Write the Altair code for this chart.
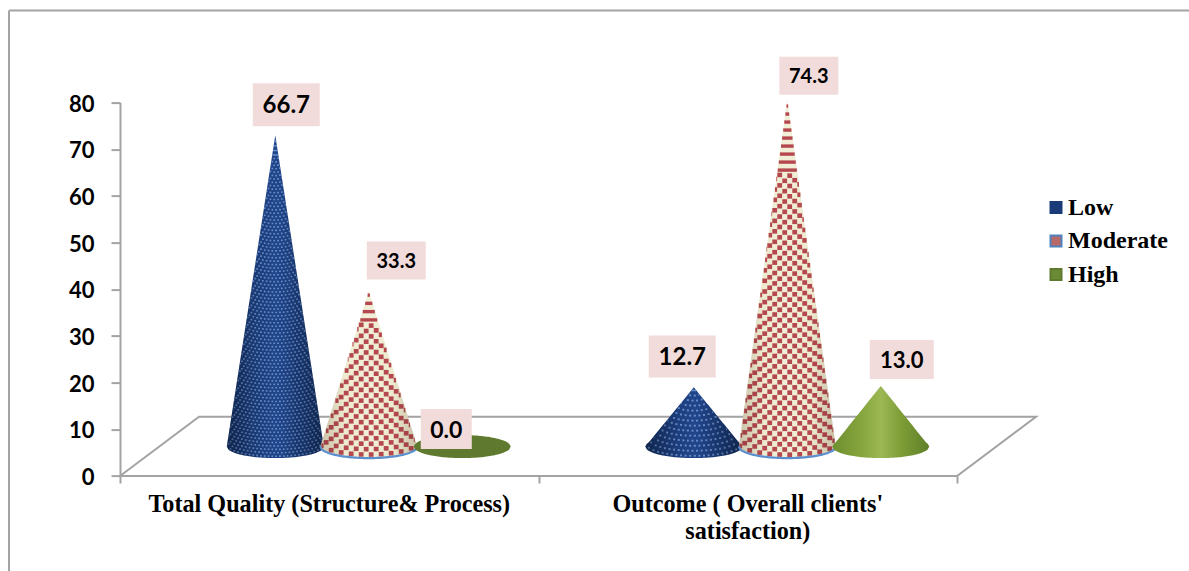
import math
import altair as alt
import pandas as pd

# Chart values
groups = ["Total Quality (Structure& Process)", "Outcome ( Overall clients'\nsatisfaction)"]
series = ["Low", "Moderate", "High"]
low_values = [66.7, 12.7]
moderate_values = [33.3, 74.3]
high_values = [0.0, 13.0]
y_ticks = [0, 10, 20, 30, 40, 50, 60, 70, 80]

# Canvas and plot-area geometry (pixels)
CANVAS_W, CANVAS_H = 1189, 571
PAD_LEFT, PAD_TOP = 120, 102.6
PLOT_W, PLOT_H = 917, 373.4
X_MAX = 2.191
PX_X = PLOT_W / X_MAX   # pixels per category unit
PX_Y = PLOT_H / 80      # pixels per value unit

# 3D floor and cone layout
DEPTH_X = 0.1888        # floor depth along x, category units
DEPTH_Y = 12.7          # floor depth along y, value units
LIFT = 6.3              # cone bases sit this far up the floor
SLOT = 93.5 / PX_X      # distance between neighbouring cones
RX = 48.5 / PX_X        # base radius, category units
RY = 11.5 / PX_Y        # base radius, value units

GREY = "#A3A3A3"
x_scale = alt.Scale(domain=[0, X_MAX], nice=False, zero=False)
y_scale = alt.Scale(domain=[0, 80], nice=False, zero=False)


def cone_centre(g, s):
    return g + 0.5 + DEPTH_X / 2 + (s - 1) * SLOT


cones = []
for g in range(2):
    for s, vals in enumerate([low_values, moderate_values, high_values]):
        cones.append(dict(name=f"{g}-{s}", g=g, s=s, value=vals[g],
                          cx=cone_centre(g, s), apex=vals[g] + LIFT))


def outline(c, n=60):
    """Sampled top and bottom edges of a cone silhouette."""
    rows = []
    for i in range(n + 1):
        u = -1 + 2 * i / n
        arc = math.sqrt(max(0.0, 1 - u * u)) * RY
        slope = LIFT + (c["apex"] - LIFT) * (1 - abs(u))
        rows.append(dict(cone=c["name"], s=c["s"], value=c["value"], x=c["cx"] + u * RX,
                         top=max(slope, LIFT + arc), bottom=LIFT - arc))
    return rows


outlines = pd.DataFrame([r for c in cones for r in outline(c)])


def textured_cells(c, cell_w, cell_h, mark_w, mark_h, stripe_half, stripe_pitch, stripe_h):
    """Pattern cells wrapped round a cone, on a grid aligned with its axis."""
    height_px = (c["apex"] - LIFT) * PX_Y
    rx_px, ry_px = RX * PX_X, RY * PX_Y
    rows, h, row = [], mark_h / 2 + 1, 0
    while h < height_px - 1:
        f = 1 - h / height_px
        half = rx_px * f
        drop = ry_px * f
        if half < stripe_half:
            y = LIFT + (h - drop * 0.8) / PX_Y
            rows.append(dict(cone=c["name"], x1=c["cx"] - half / PX_X, x2=c["cx"] + half / PX_X,
                             y1=y - stripe_h / 2 / PX_Y, y2=y + stripe_h / 2 / PX_Y))
            h += stripe_pitch
        else:
            k0 = -int(half / cell_w) - 1
            for k in range(k0, -k0 + 1):
                if (k + row) % 2:
                    continue
                left = k * cell_w
                right = left + mark_w
                left, right = max(left, -half), min(right, half)
                if right - left < 0.5:
                    continue
                mid = (left + right) / 2 / half
                y = LIFT + (h - drop * math.sqrt(max(0.0, 1 - mid * mid))) / PX_Y
                rows.append(dict(cone=c["name"], x1=c["cx"] + left / PX_X, x2=c["cx"] + right / PX_X,
                                 y1=y - mark_h / 2 / PX_Y, y2=y + mark_h / 2 / PX_Y))
            h += cell_h
        row += 1
    return rows


def blue_texture(c):
    # The short cone wraps the same weave more coarsely than the tall one
    if c["value"] < 20:
        return textured_cells(c, 2.3, 4.2, 2.0, 1.9, 4, 4.4, 1.5)
    return textured_cells(c, 1.9, 3.3, 1.7, 1.6, 3, 4.4, 1.5)


blue_cells = pd.DataFrame([r for c in cones if c["s"] == 0 for r in blue_texture(c)])
red_cells = pd.DataFrame([r for c in cones if c["s"] == 1
                          for r in textured_cells(c, 5.0, 5.0, 4.8, 4.6, 10, 7.8, 3.4)])


def grad(*stops):
    return alt.Gradient(gradient="linear", x1=0, x2=1, y1=0, y2=0,
                        stops=[alt.GradientStop(color=col, offset=o) for o, col in stops])


def silhouette(frame, fill):
    return alt.Chart(frame).mark_area(color=fill, orient="vertical", line=False).encode(
        x=alt.X("x:Q", scale=x_scale, axis=None),
        y=alt.Y("top:Q", scale=y_scale, axis=None, stack=None),
        y2="bottom:Q",
        detail="cone:N",
    )


def pattern(frame, colour, opacity=1.0):
    return alt.Chart(frame).mark_rect(color=colour, opacity=opacity).encode(
        x=alt.X("x1:Q", scale=x_scale, axis=None),
        x2="x2:Q",
        y=alt.Y("y1:Q", scale=y_scale, axis=None),
        y2="y2:Q",
    )


dark_edges = grad((0, "rgba(0,0,0,0.30)"), (0.35, "rgba(0,0,0,0.03)"),
                  (0.55, "rgba(0,0,0,0)"), (1, "rgba(0,0,0,0.30)"))
soft_edges = grad((0, "rgba(60,20,20,0.18)"), (0.25, "rgba(0,0,0,0)"),
                  (0.75, "rgba(0,0,0,0)"), (1, "rgba(60,20,20,0.18)"))

low_shape = outlines[outlines.s == 0]
mod_shape = outlines[outlines.s == 1]
high_shape = outlines[(outlines.s == 2) & (outlines.value > 0)]
flat_shape = outlines[(outlines.s == 2) & (outlines.value == 0)]

low_layers = (
    silhouette(low_shape, grad((0, "#17356F"), (0.5, "#21458B"), (1, "#17356F")))
    + pattern(blue_cells, "#8CB6E6", 0.68)
    + silhouette(low_shape, dark_edges)
)
mod_base_arc = alt.Chart(mod_shape).mark_line(color="#5C8FCE", strokeWidth=2.2).encode(
    x=alt.X("x:Q", scale=x_scale, axis=None),
    y=alt.Y("bottom:Q", scale=y_scale, axis=None),
    detail="cone:N",
)
mod_layers = (
    silhouette(mod_shape, grad((0, "#EAE6C8"), (0.5, "#F1EFD8"), (1, "#E9E5C6")))
    + pattern(red_cells, "#B4484E")
    + silhouette(mod_shape, soft_edges)
    + mod_base_arc
)
high_layers = (
    silhouette(flat_shape, "#5F7A2E")
    + silhouette(high_shape, grad((0, "#6E8F2F"), (0.3, "#86A53E"), (0.5, "#9CB854"),
                                  (0.7, "#7F9E38"), (1, "#5F7F28")))
)

# Floor of the 3D plot: front edge, two sides and back edge
floor_df = pd.DataFrame({
    "x": [0, 2, 2 + DEPTH_X, DEPTH_X, 0],
    "y": [0, 0, DEPTH_Y, DEPTH_Y, 0],
    "order": [0, 1, 2, 3, 4],
})
floor = alt.Chart(floor_df).mark_line(color=GREY, strokeWidth=2).encode(
    x=alt.X("x:Q", scale=x_scale, title=None,
            axis=alt.Axis(values=[0, 1, 2], labels=False, domain=False, grid=False, title=None,
                          tickColor=GREY, tickWidth=2, tickSize=7)),
    y=alt.Y("y:Q", scale=y_scale, title=None,
            axis=alt.Axis(values=y_ticks, grid=False, title=None, domainColor=GREY, domainWidth=2,
                          tickColor=GREY, tickWidth=2, tickSize=9, labelFont="Lato",
                          labelFontWeight="bold", labelFontSize=22, labelColor="black",
                          labelPadding=17, labelOffset=1.5)),
    order="order:Q",
)

one_row = pd.DataFrame({"k": [0]})

# Frame around the chart area, left and top edges
frame = (
    alt.Chart(one_row).mark_rule(color=GREY, strokeWidth=2).encode(
        x=alt.value(9 - PAD_LEFT), y=alt.value(10.5 - PAD_TOP), y2=alt.value(CANVAS_H - PAD_TOP))
    + alt.Chart(one_row).mark_rule(color=GREY, strokeWidth=2).encode(
        y=alt.value(10.5 - PAD_TOP), x=alt.value(9 - PAD_LEFT), x2=alt.value(CANVAS_W - PAD_LEFT))
)

# Category captions under the floor
caption_df = pd.DataFrame({"label": groups, "x": [0.5, 1.5]})
captions = alt.Chart(caption_df).mark_text(
    font="Liberation Serif", fontWeight="bold", fontSize=24.2, color="black",
    baseline="middle", lineBreak="\n", lineHeight=27,
).encode(x=alt.X("x:Q", scale=x_scale, axis=None), y=alt.value(505 - PAD_TOP), text="label:N")

# Value labels on pale pink boxes, placed relative to each cone's apex
label_offset_px = {  # dx, dy, box w, box h, font size
    "0-0": (11, -30.6, 67, 43, 24), "0-1": (27.5, -30.7, 59, 38, 20), "0-2": (-16, -17.5, 51, 40, 23),
    "1-0": (-11.5, -30.7, 67, 42, 24), "1-1": (21.5, -24, 59, 38, 20), "1-2": (21, -26.5, 64, 39, 22),
}
label_rows = []
for c in cones:
    dx, dy, bw, bh, fs = label_offset_px[c["name"]]
    lx, ly = c["cx"] + dx / PX_X, c["apex"] - dy / PX_Y
    label_rows.append(dict(lx=lx, ly=ly, bx1=lx - bw / 2 / PX_X, bx2=lx + bw / 2 / PX_X,
                           by1=ly - bh / 2 / PX_Y, by2=ly + bh / 2 / PX_Y,
                           text=f"{c['value']:.1f}", fs=fs))
label_df = pd.DataFrame(label_rows)
label_boxes = alt.Chart(label_df).mark_rect(color="#F2DCDB").encode(
    x=alt.X("bx1:Q", scale=x_scale, axis=None), x2="bx2:Q",
    y=alt.Y("by1:Q", scale=y_scale, axis=None), y2="by2:Q",
)
label_text = alt.Chart(label_df).mark_text(
    font="Lato", fontWeight="bold", color="black", baseline="middle", align="center", dy=1.5,
).encode(
    x=alt.X("lx:Q", scale=x_scale, axis=None),
    y=alt.Y("ly:Q", scale=y_scale, axis=None),
    text="text:N",
    size=alt.Size("fs:Q", scale=None, legend=None),
)

# Legend keys come from a zero-size layer so the cones keep their own fills;
# fill and stroke scales give the Moderate key its blue frame and red centre
key_legend = alt.Legend(
    title=None, orient="none", legendX=1044 - PAD_LEFT, legendY=195.5 - PAD_TOP,
    symbolType="square", symbolSize=121, symbolOpacity=1, symbolStrokeWidth=2,
    labelFont="Liberation Serif", labelFontWeight="bold", labelFontSize=24,
    labelColor="black", labelOffset=0, rowPadding=9.5, labelLimit=200,
)
legend_layer = alt.Chart(pd.DataFrame({"series": series})).mark_square(size=0).encode(
    fill=alt.Fill("series:N", sort=series, legend=key_legend,
                  scale=alt.Scale(domain=series, range=["#1B3A78", "#B9686A", "#6B8A34"])),
    stroke=alt.Stroke("series:N", sort=series, legend=key_legend,
                      scale=alt.Scale(domain=series, range=["#1B3A78", "#4F81BD", "#5F7A2E"])),
)

chart = alt.layer(
    frame, floor, low_layers, mod_layers, high_layers,
    label_boxes, label_text, captions, legend_layer,
).resolve_axis(x="independent", y="independent").properties(
    width=PLOT_W, height=PLOT_H,
    autosize=alt.AutoSizeParams(type="none", contains="content"),
    padding={"left": PAD_LEFT, "top": PAD_TOP,
             "right": CANVAS_W - PAD_LEFT - PLOT_W, "bottom": CANVAS_H - PAD_TOP - PLOT_H},
    background="white",
).configure_view(stroke=None)

chart.save("out.html", embed_options={"renderer": "svg", "actions": False})
